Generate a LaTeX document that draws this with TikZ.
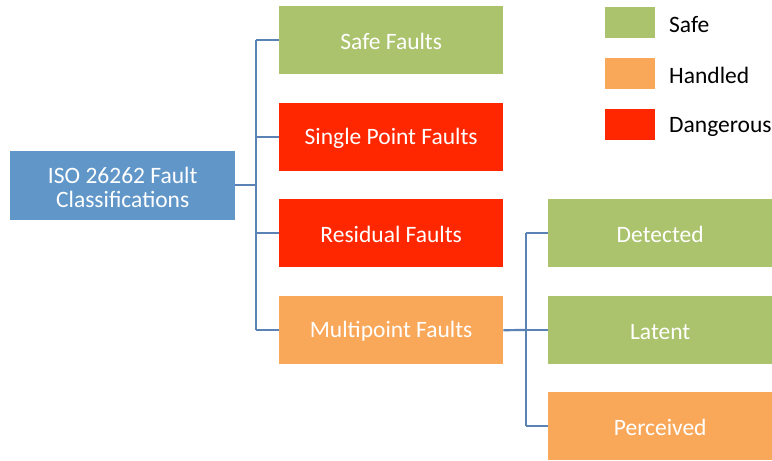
\documentclass[tikz,border=0pt]{standalone}
\usepackage{fontspec}
\setmainfont{Carlito}
\definecolor{cgreen}{HTML}{ABC36C}
\definecolor{corange}{HTML}{F9A85A}
\definecolor{cred}{HTML}{FF2700}
\definecolor{cblue}{HTML}{6196C8}
\definecolor{cline}{HTML}{5A82B4}
\begin{document}
\begin{tikzpicture}[x=1pt,y=-1pt,
  box/.style={minimum width=224pt,minimum height=68pt,inner sep=0pt,anchor=north west},
  txt/.style={text=white,font=\fontsize{23.5}{24}\selectfont,align=center,inner sep=0pt},
  leg/.style={minimum width=50pt,minimum height=31pt,inner sep=0pt,anchor=north west},
  legtext/.style={font=\fontsize{23.5}{24}\selectfont,anchor=west,inner sep=0pt},
  conn/.style={draw=cline,line width=2.2pt}]
\useasboundingbox (0,0) rectangle (772,461);
\node[box,fill=cblue,minimum width=225pt,minimum height=69pt] (root) at (10,151) {};
\node[box,fill=cgreen] (safe) at (279,6) {};
\node[box,fill=cred] (spf) at (279,103) {};
\node[box,fill=cred] (res) at (279,199) {};
\node[box,fill=corange] (mpf) at (279,296) {};
\node[box,fill=cgreen] (det) at (548,199) {};
\node[box,fill=cgreen] (lat) at (548,296) {};
\node[box,fill=corange] (per) at (548,392) {};
\node[txt] (troot) at ([yshift=-1.5pt]root.center) {ISO 26262 Fault\\Classifications};
\node[txt] (tsafe) at ([yshift=-1.5pt]safe.center) {Safe Faults};
\node[txt] (tspf) at ([yshift=-1.5pt]spf.center) {Single Point Faults};
\node[txt] (tres) at ([yshift=-1.5pt]res.center) {Residual Faults};
\node[txt] (tmpf) at ([yshift=-1.5pt]mpf.center) {Multipoint Faults};
\node[txt] (tdet) at ([yshift=-1.5pt]det.center) {Detected};
\node[txt] (tlat) at ([yshift=-1.5pt]lat.center) {Latent};
\node[txt] (tper) at ([yshift=-1.5pt]per.center) {Perceived};
\node[leg,fill=cgreen] (lg1) at (605,7) {};
\node[leg,fill=corange] (lg2) at (605,58) {};
\node[leg,fill=cred] (lg3) at (605,109) {};
\node[legtext] (lt1) at (669,24.5) {Safe};
\node[legtext] (lt2) at (669,75.5) {Handled};
\node[legtext] (lt3) at (669,126.5) {Dangerous};
\coordinate (b1) at (256,185);
\coordinate (b2) at (526,330);
\draw[conn] (root.east |- b1) -- (b1);
\draw[conn] (b1 |- safe.west) -- (b1 |- mpf.west);
\foreach \n in {safe,spf,res,mpf} \draw[conn] (b1 |- \n.west) -- (\n.west);
\draw[conn] (mpf.east) -- (b2);
\draw[conn] (b2 |- det.west) -- (b2 |- per.west);
\foreach \n in {det,lat,per} \draw[conn] (b2 |- \n.west) -- (\n.west);
\end{tikzpicture}
\end{document}
